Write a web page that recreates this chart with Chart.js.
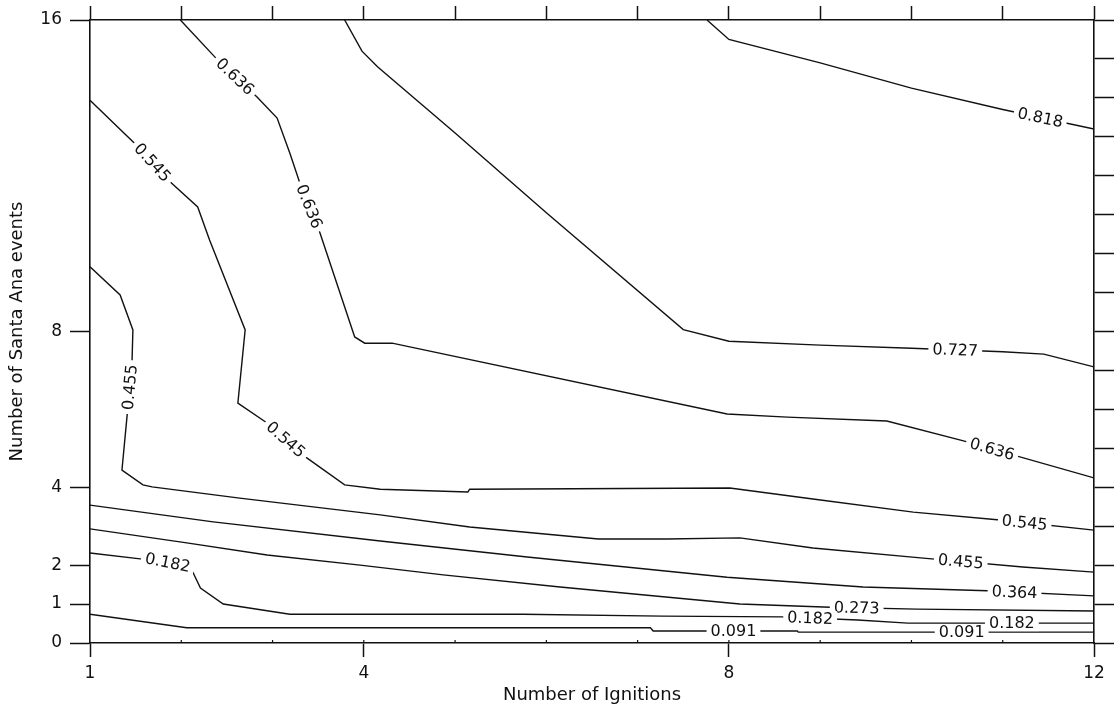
<!DOCTYPE html>
<html>
<head>
<meta charset="utf-8">
<title>Santa Ana contours</title>
<script src="https://cdn.jsdelivr.net/npm/chart.js@4"></script>
<style>
  body { margin: 0; background: #fff; }
  #wrap { width: 1114px; height: 712px; }
</style>
</head>
<body>
<div id="wrap"><canvas id="c"></canvas></div>
<script>
// axis ticks
var xTicks = [1, 4, 8, 12];
var yTicks = [0, 1, 2, 4, 8, 16];

// contour lines, [ignitions, santa ana events]
var c818 = [[7.76,16],[8,15.5],[9,14.9],[10,14.25],[11,13.7],[12,13.2]];
var c727 = [[3.79,16],[3.98,15.2],[4.15,14.8],[5,13.1],[6,11.05],[7.5,8.05],[8,7.75],[9,7.65],[10,7.57],[11,7.48],[11.45,7.42],[12,7.09]];
var c636 = [[1.99,16],[2.40,14.97],[2.83,14.02],[3.05,13.48],[3.19,12.58],[3.30,11.81],[3.52,10.53],[3.90,7.86],[4.01,7.70],[4.31,7.70],[7.98,5.88],[8.64,5.80],[9.73,5.70],[10.57,5.19],[12,4.24]];
var c545 = [[1,13.94],[1.53,12.74],[1.88,11.84],[2.18,11.20],[2.31,10.35],[2.70,8.04],[2.62,6.16],[2.94,5.65],[3.36,4.78],[3.79,4.06],[4.18,3.95],[5.14,3.88],[5.16,3.95],[8.01,3.98],[8.92,3.70],[10.02,3.36],[10.97,3.16],[12,2.90]];
var c455 = [[1,9.66],[1.33,8.94],[1.47,8.04],[1.46,7.19],[1.41,5.93],[1.35,4.44],[1.58,4.06],[1.68,4.01],[2.64,3.72],[4.18,3.29],[5.16,2.98],[6.57,2.67],[7.32,2.67],[8.12,2.70],[8.92,2.44],[10.13,2.18],[11.22,1.95],[12,1.82]];
var c364 = [[1,3.54],[2.35,3.11],[4.18,2.62],[5.79,2.21],[7.98,1.69],[9.47,1.44],[10.83,1.34],[12,1.21]];
var c273 = [[1,2.93],[2.06,2.57],[2.94,2.26],[3.96,2.0],[4.87,1.75],[6.15,1.44],[8.12,1.0],[9.11,0.92],[10.06,0.87],[12,0.82]];
var c182 = [[1,2.31],[1.55,2.16],[1.85,2.07],[2.10,1.95],[2.21,1.41],[2.46,1.0],[3.19,0.74],[5.74,0.74],[7.27,0.69],[8.58,0.67],[9.41,0.59],[9.96,0.51],[12,0.51]];
var c091 = [[1,0.74],[2.06,0.39],[7.14,0.39],[7.17,0.31],[8.75,0.31],[8.76,0.28],[12,0.28]];

var contours = {
  '0.818': c818, '0.727': c727, '0.636': c636, '0.545': c545, '0.455': c455,
  '0.364': c364, '0.273': c273, '0.182': c182, '0.091': c091
};

// contour labels
var labelLevel = ['0.818','0.727','0.636','0.636','0.636','0.545','0.545','0.545','0.455','0.455','0.364','0.273','0.182','0.182','0.182','0.091','0.091'];
var labelX = [11.41,10.48,2.57,3.39,10.89,1.69,3.14,11.24,1.44,10.54,11.13,9.40,1.85,8.89,11.10,8.05,10.55];
var labelY = [13.48,7.52,14.5,11.2,5.03,12.35,5.21,3.08,6.57,2.10,1.34,0.92,2.05,0.64,0.54,0.31,0.28];

var ink = '#111';
var fam = 'DejaVu Sans';

var datasets = Object.keys(contours).map(function (k) {
  return {
    label: k,
    data: contours[k].map(function (p) { return { x: p[0], y: p[1] }; }),
    showLine: true,
    borderColor: ink,
    borderWidth: 1.4,
    pointRadius: 0,
    tension: 0
  };
});

function range(a, b) {
  var r = [];
  for (var i = a; i <= b; i++) r.push(i);
  return r;
}

// labels sit on the line with a white gap behind them
var contourLabels = {
  id: 'contourLabels',
  afterDatasetsDraw: function (chart) {
    var ctx = chart.ctx, xs = chart.scales.x, ys = chart.scales.y;
    ctx.save();
    ctx.font = '16px "' + fam + '"';
    for (var i = 0; i < labelLevel.length; i++) {
      var pts = contours[labelLevel[i]].map(function (p) {
        return [xs.getPixelForValue(p[0]), ys.getPixelForValue(p[1])];
      });
      var ax = xs.getPixelForValue(labelX[i]), ay = ys.getPixelForValue(labelY[i]);
      var best = null;
      for (var j = 0; j < pts.length - 1; j++) {
        var x1 = pts[j][0], y1 = pts[j][1], x2 = pts[j + 1][0], y2 = pts[j + 1][1];
        var dx = x2 - x1, dy = y2 - y1, len = dx * dx + dy * dy;
        var t = len ? ((ax - x1) * dx + (ay - y1) * dy) / len : 0;
        t = Math.max(0, Math.min(1, t));
        var px = x1 + t * dx, py = y1 + t * dy;
        var d = (px - ax) * (px - ax) + (py - ay) * (py - ay);
        if (!best || d < best.d) best = { d: d, x: px, y: py, a: Math.atan2(dy, dx) };
      }
      var ang = best.a;
      if (ang > Math.PI / 2) ang -= Math.PI;
      if (ang < -Math.PI / 2) ang += Math.PI;
      var w = ctx.measureText(labelLevel[i]).width;
      ctx.save();
      ctx.translate(best.x, best.y);
      ctx.rotate(ang);
      ctx.fillStyle = '#fff';
      ctx.fillRect(-w / 2 - 4, -8, w + 8, 16);
      ctx.fillStyle = ink;
      ctx.textAlign = 'center';
      ctx.textBaseline = 'middle';
      ctx.fillText(labelLevel[i], 0, 1);
      ctx.restore();
    }
    ctx.restore();
  },
  afterDraw: function (chart) {
    // small inward ticks on the bottom axis
    var ctx = chart.ctx, xs = chart.scales.x, b = chart.chartArea.bottom;
    ctx.save();
    ctx.strokeStyle = ink;
    ctx.lineWidth = 1.2;
    range(2, 11).forEach(function (v) {
      var px = xs.getPixelForValue(v);
      ctx.beginPath();
      ctx.moveTo(px, b);
      ctx.lineTo(px, b - 3);
      ctx.stroke();
    });
    ctx.restore();
  }
};

function axisGrid(len) {
  return { drawOnChartArea: false, tickLength: len, tickColor: ink, tickWidth: 1.5 };
}
var axisBorder = { color: ink, width: 1.6 };

new Chart(document.getElementById('c'), {
  type: 'scatter',
  data: { datasets: datasets },
  options: {
    responsive: true,
    maintainAspectRatio: false,
    animation: false,
    layout: { padding: 0 },
    plugins: { legend: { display: false }, tooltip: { enabled: false } },
    scales: {
      x: {
        type: 'linear', position: 'bottom', min: 1, max: 12,
        afterBuildTicks: function (s) { s.ticks = xTicks.map(function (v) { return { value: v }; }); },
        afterFit: function (s) { s.height = 69; },
        grid: axisGrid(14),
        border: axisBorder,
        ticks: { autoSkip: false, maxRotation: 0, padding: 6, color: ink, font: { family: fam, size: 17 } },
        title: { display: true, text: 'Number of Ignitions', color: ink, font: { family: fam, size: 18 }, padding: { top: 0, bottom: 6 } }
      },
      x2: {
        type: 'linear', position: 'top', min: 1, max: 12,
        afterBuildTicks: function (s) { s.ticks = range(1, 12).map(function (v) { return { value: v }; }); },
        afterFit: function (s) { s.height = 20; },
        grid: axisGrid(14),
        border: axisBorder,
        ticks: { display: false, autoSkip: false }
      },
      y: {
        type: 'linear', position: 'left', min: 0, max: 16,
        afterBuildTicks: function (s) { s.ticks = yTicks.map(function (v) { return { value: v }; }); },
        afterFit: function (s) { s.width = 90; },
        grid: axisGrid(20),
        border: axisBorder,
        ticks: { autoSkip: false, padding: 8, color: ink, font: { family: fam, size: 17 } },
        title: { display: true, text: 'Number of Santa Ana events', color: ink, font: { family: fam, size: 18 }, padding: { top: 7, bottom: 0 } }
      },
      y2: {
        type: 'linear', position: 'right', min: 0, max: 16,
        afterBuildTicks: function (s) { s.ticks = range(0, 16).map(function (v) { return { value: v }; }); },
        afterFit: function (s) { s.width = 20; },
        grid: axisGrid(20),
        border: axisBorder,
        ticks: { display: false, autoSkip: false }
      }
    }
  },
  plugins: [contourLabels]
});
</script>
</body>
</html>
